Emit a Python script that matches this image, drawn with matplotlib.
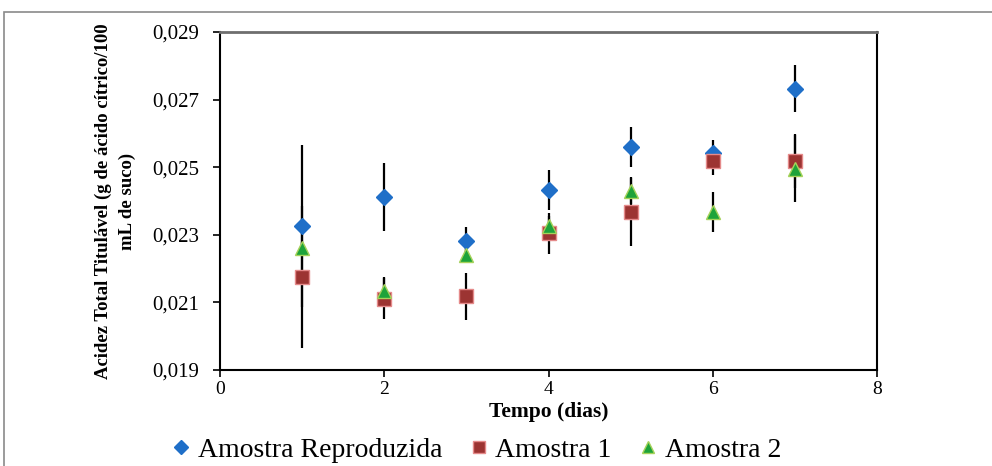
import matplotlib
matplotlib.use("Agg")
import matplotlib.pyplot as plt
from matplotlib.patches import Rectangle

# ---- data ----
dias = [1, 2, 3, 4, 5, 6, 7]
reproduzida = [0.02325, 0.02411, 0.02283, 0.02432, 0.02560, 0.02541, 0.02732]
reproduzida_err = [0.0024, 0.0010, 0.0004, 0.0006, 0.0006, 0.0004, 0.0007]
amostra1 = [0.02176, 0.02111, 0.02118, 0.02304, 0.02368, 0.02517, 0.02517]
amostra1_err = [0.0021, 0.0006, 0.0007, 0.0006, 0.0010, 0.0004, 0.0008]
amostra2 = [0.02260, 0.02134, 0.02240, 0.02325, 0.02431, 0.02368, 0.02496]
amostra2_err = [0.0002, 0.0004, 0.0002, 0.0003, 0.0004, 0.0006, 0.0010]

yticks = [0.019, 0.021, 0.023, 0.025, 0.027, 0.029]
ytick_labels = ["0,019", "0,021", "0,023", "0,025", "0,027", "0,029"]
xticks = [0, 2, 4, 6, 8]
xtick_labels = ["0", "2", "4", "6", "8"]
series_names = ["Amostra Reproduzida", "Amostra 1", "Amostra 2"]

plt.rcParams['font.family'] = ['Liberation Serif', 'DejaVu Serif']

fig = plt.figure(figsize=(9.92, 4.66), dpi=100)
# outer frame
fig.patches.append(Rectangle((4/992, -0.2), 1.5, (466-12)/466 + 0.2,
                             transform=fig.transFigure, fill=False,
                             edgecolor='#8a8a8a', linewidth=1.2))

ax = fig.add_axes([220/992, (466-370)/466, (877-220)/992, (370-32)/466])

series = [
    (reproduzida, reproduzida_err, 'D', 8, '#1f6fc8', '#1f6fc8'),
    (amostra1, amostra1_err, 's', 10, '#9c3432', '#e58a8a'),
    (amostra2, amostra2_err, '^', 10, '#1ea33a', '#a6d25a'),
]

# error bars behind the markers
for vals, errs, *_ in series:
    ax.errorbar(dias, vals, yerr=errs, fmt='none', ecolor='black',
                elinewidth=1.6, capsize=0, zorder=1)

handles = []
for (vals, errs, mk, ms, fc, ec), name in zip(series, series_names):
    h, = ax.plot(dias, vals, linestyle='none', marker=mk, markersize=ms,
                 markerfacecolor=fc, markeredgecolor=ec, markeredgewidth=1.0,
                 zorder=3, label=name)
    handles.append(h)

ax.set_xlim(0, 8)
ax.set_ylim(0.019, 0.029)
ax.set_xticks(xticks)
ax.set_xticklabels(xtick_labels, fontsize=14)
ax.set_yticks(yticks)
ax.set_yticklabels(ytick_labels, fontsize=15)
ax.tick_params(axis='both', direction='out', length=5, width=1.2, color='black')
ax.tick_params(axis='y', pad=10)
ax.tick_params(axis='x', pad=3)

for s in ['left', 'bottom', 'right']:
    ax.spines[s].set_color('black')
    ax.spines[s].set_linewidth(1.5)
ax.spines['top'].set_color('#6e6e6e')
ax.spines['top'].set_linewidth(2.0)

ax.set_xlabel("Tempo (dias)", fontsize=15.5, fontweight='bold', labelpad=3)
ax.set_ylabel("Acidez Total Titulável (g de ácido cítrico/100\nmL de suco)",
              fontsize=13.5, fontweight='bold', labelpad=12, linespacing=1.5)

fig.legend(handles=handles, labels=series_names, loc='center',
           bbox_to_anchor=(477/992, 16/466), ncol=3, frameon=False,
           fontsize=20, handlelength=0.6, handletextpad=0.3,
           columnspacing=1.0, markerscale=0.9, borderpad=0.1)

fig.savefig("out.png", dpi=100)
